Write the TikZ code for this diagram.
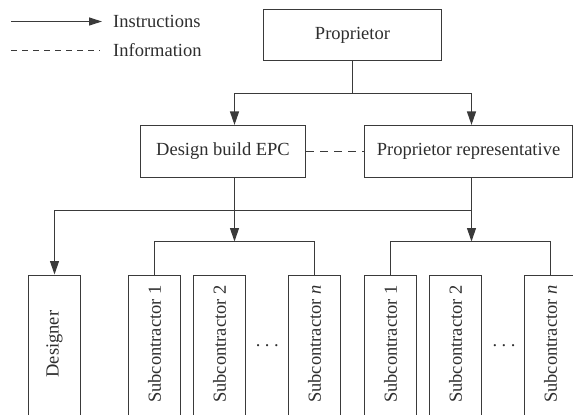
\documentclass[tikz,border=0pt]{standalone}
\usepackage{fontspec}
\setmainfont{Liberation Serif}
\usetikzlibrary{arrows.meta}
\definecolor{ln}{HTML}{3A3A3A}
\definecolor{tx}{HTML}{2E2E2E}
\tikzset{
  box/.style={draw=ln, line width=1.15pt, inner sep=0pt, text=tx},
  vbox/.style={box, rotate=90, minimum width=150pt, minimum height=52pt, anchor=east},
  conn/.style={draw=ln, line width=1.15pt},
  arr/.style={conn, -{Triangle[length=13.5pt,width=9pt]}},
  infolink/.style={conn, dash pattern=on 8pt off 6pt},
  lbl/.style={text=tx, inner sep=0pt}
}
\begin{document}
\begin{tikzpicture}[x=1pt,y=-1pt, font=\fontsize{18.5}{22}\selectfont]
\useasboundingbox (0,0) rectangle (573,415);
\clip (0,0) rectangle (573,415);
% legend
\coordinate (l1a) at (11,21.5);
\coordinate (l1b) at (102,21.5);
\coordinate (l2a) at (11,50.5);
\coordinate (l2b) at (100,50.5);
\draw[conn, -{Triangle[length=13pt,width=8pt]}] (l1a) -- (l1b);
\draw[conn, dash pattern=on 6pt off 5pt] (l2a) -- (l2b);
\node[lbl, anchor=west] (legI) at (113,21) {Instructions};
\node[lbl, anchor=west] (legF) at (113,50) {Information};
% top boxes
\node[box, minimum width=178pt, minimum height=51pt] (prop) at (352.5,35) {Proprietor};
\node[box, minimum width=165pt, minimum height=52pt] (epc) at (223,151.5) {Design build EPC};
\node[box, minimum width=208pt, minimum height=52pt] (rep) at (468.5,151.5) {Proprietor representative};
% bottom boxes
\node[vbox] (des) at (54.5,274.5) {\hspace*{12pt}Designer};
\node[vbox] (s1) at (154.5,274.5) {\hspace*{12pt}Subcontractor 1};
\node[vbox] (s2) at (219.5,274.5) {\hspace*{12pt}Subcontractor 2};
\node[vbox] (sn) at (314.5,274.5) {\hspace*{12pt}Subcontractor \textit{n}};
\node[vbox] (r1) at (390.5,274.5) {\hspace*{12pt}Subcontractor 1};
\node[vbox] (r2) at (455.5,274.5) {\hspace*{12pt}Subcontractor 2};
\node[vbox] (rn) at (550.5,274.5) {\hspace*{12pt}Subcontractor \textit{n}};
\node[lbl] (dots1) at (267.3,345.5) {.\kern4.5pt.\kern4.5pt.};
\node[lbl] (dots2) at (504,345.5) {.\kern4.5pt.\kern4.5pt.};
% junction coordinates
\coordinate (j1) at (352.5,93.5);
\coordinate (j1l) at (234.5,93.5);
\coordinate (j1r) at (471.5,93.5);
\coordinate (j2l) at (54.5,210.5);
\coordinate (j2r) at (471.5,210.5);
\coordinate (g1) at (234.5,241.5);
\coordinate (g1l) at (154.5,241.5);
\coordinate (g1r) at (314.5,241.5);
\coordinate (g2) at (471.5,241.5);
\coordinate (g2l) at (390.5,241.5);
\coordinate (g2r) at (550.5,241.5);
% connectors
\draw[conn] (prop.south) -- (j1);
\draw[arr] (j1) -- (j1l) -- (j1l |- epc.north);
\draw[arr] (j1) -- (j1r) -- (j1r |- rep.north);
\draw[infolink] (epc.east) -- (rep.west);
\draw[arr] (g1 |- epc.south) -- (g1);
\draw[arr] (g2 |- rep.south) -- (g2);
\draw[arr] (j2r) -- (j2l) -- (des.east);
\draw[conn] (g1l |- s1.east) -- (g1l) -- (g1r) -- (sn.east);
\draw[conn] (g2l |- r1.east) -- (g2l) -- (g2r) -- (rn.east);
\end{tikzpicture}
\end{document}
